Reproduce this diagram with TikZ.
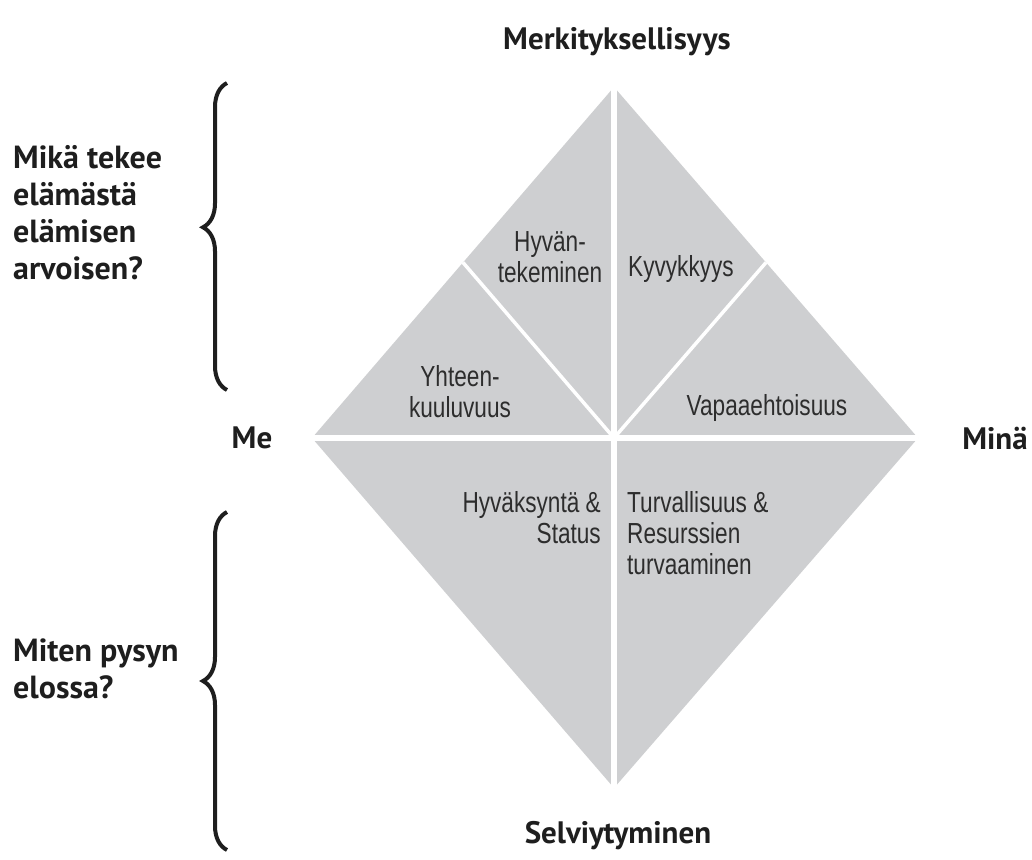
\documentclass[tikz,border=0pt]{standalone}
\usepackage{fontspec}
\usepackage{xcolor}
\usepackage{tikz}
\usetikzlibrary{
  positioning,
  calc,
  decorations.pathreplacing
}
\newfontfamily\headfont{PT Sans}
\newfontfamily\labelfont[FakeStretch=0.78]{Liberation Sans}
\definecolor{diamondgray}{RGB}{206,207,209}
\definecolor{inkdark}{RGB}{30,30,30}
\definecolor{inklabel}{RGB}{45,45,45}

\begin{document}
\begin{tikzpicture}[
  x=1pt, y=-1pt,
  axislabel/.style={
    inner sep=0pt, text=inkdark,
    font=\headfont\bfseries\fontsize{31}{36}\selectfont
  },
  question/.style={
    anchor=west, align=left, inner sep=0pt, text=inkdark,
    font=\headfont\bfseries\fontsize{32}{37}\selectfont
  },
  field/.style={
    inner sep=0pt, text=inklabel,
    font=\labelfont\fontsize{29}{31}\selectfont
  },
  gap/.style={white, line width=6pt},
  thingap/.style={white, line width=3.5pt},
  bracket/.style={
    inkdark, line width=4pt,
    decorate, decoration={brace, amplitude=24pt, raise=0pt}
  }
]
  \useasboundingbox (0,0) rectangle (1032,859);

  % diamond corners
  \coordinate (top)    at (614,87);
  \coordinate (bottom) at (614,788);
  \coordinate (left)   at (312,438);
  \coordinate (right)  at (918,438);
  \coordinate (centre) at (614,438);
  \coordinate (midul)  at ($(top)!0.5!(left)$);
  \coordinate (midur)  at ($(top)!0.5!(right)$);

  \fill[diamondgray] (top) -- (right) -- (bottom) -- (left) -- cycle;
  \draw[gap] (top) -- (bottom);
  \draw[gap] (left) -- (right);
  \draw[thingap] (centre) -- (midul);
  \draw[thingap] (centre) -- (midur);

  % axis labels
  \node[axislabel] (meaning)  at (617,42)  {Merkityksellisyys};
  \node[axislabel] (survival) at (618,836) {Selviytyminen};
  \node[axislabel] (we)       at (252,438) {Me};
  \node[axislabel] (self)     at (995,438) {Minä};

  % fields
  \node[field, align=center] (charity) at (550,257) {Hyvän-\\tekeminen};
  \node[field, align=center] (belong)  at (460,392) {Yhteen-\\kuuluvuus};
  \node[field, anchor=west]  (skill)   at (628,269) {Kyvykkyys};
  \node[field]               (free)    at (767,408) {Vapaaehtoisuus};
  \node[field, anchor=east, align=right] (status) at (601,518)
    {Hyväksyntä \&\\Status};
  \node[field, anchor=west, align=left]  (safety) at (627,533)
    {Turvallisuus \&\\Resurssien\\turvaaminen};

  % questions and braces
  \node[question] (worth) at (13,213)
    {Mikä tekee\\elämästä\\elämisen\\arvoisen?};
  \node[question] (alive) at (13,669) {Miten pysyn\\elossa?};

  \coordinate (upperlow)  at (227,390);
  \coordinate (upperhigh) at (227,83);
  \coordinate (lowerlow)  at (227,850);
  \coordinate (lowerhigh) at (227,512);
  \draw[bracket, decoration={aspect=0.53}] (upperlow) -- (upperhigh);
  \draw[bracket] (lowerlow) -- (lowerhigh);
\end{tikzpicture}
\end{document}
